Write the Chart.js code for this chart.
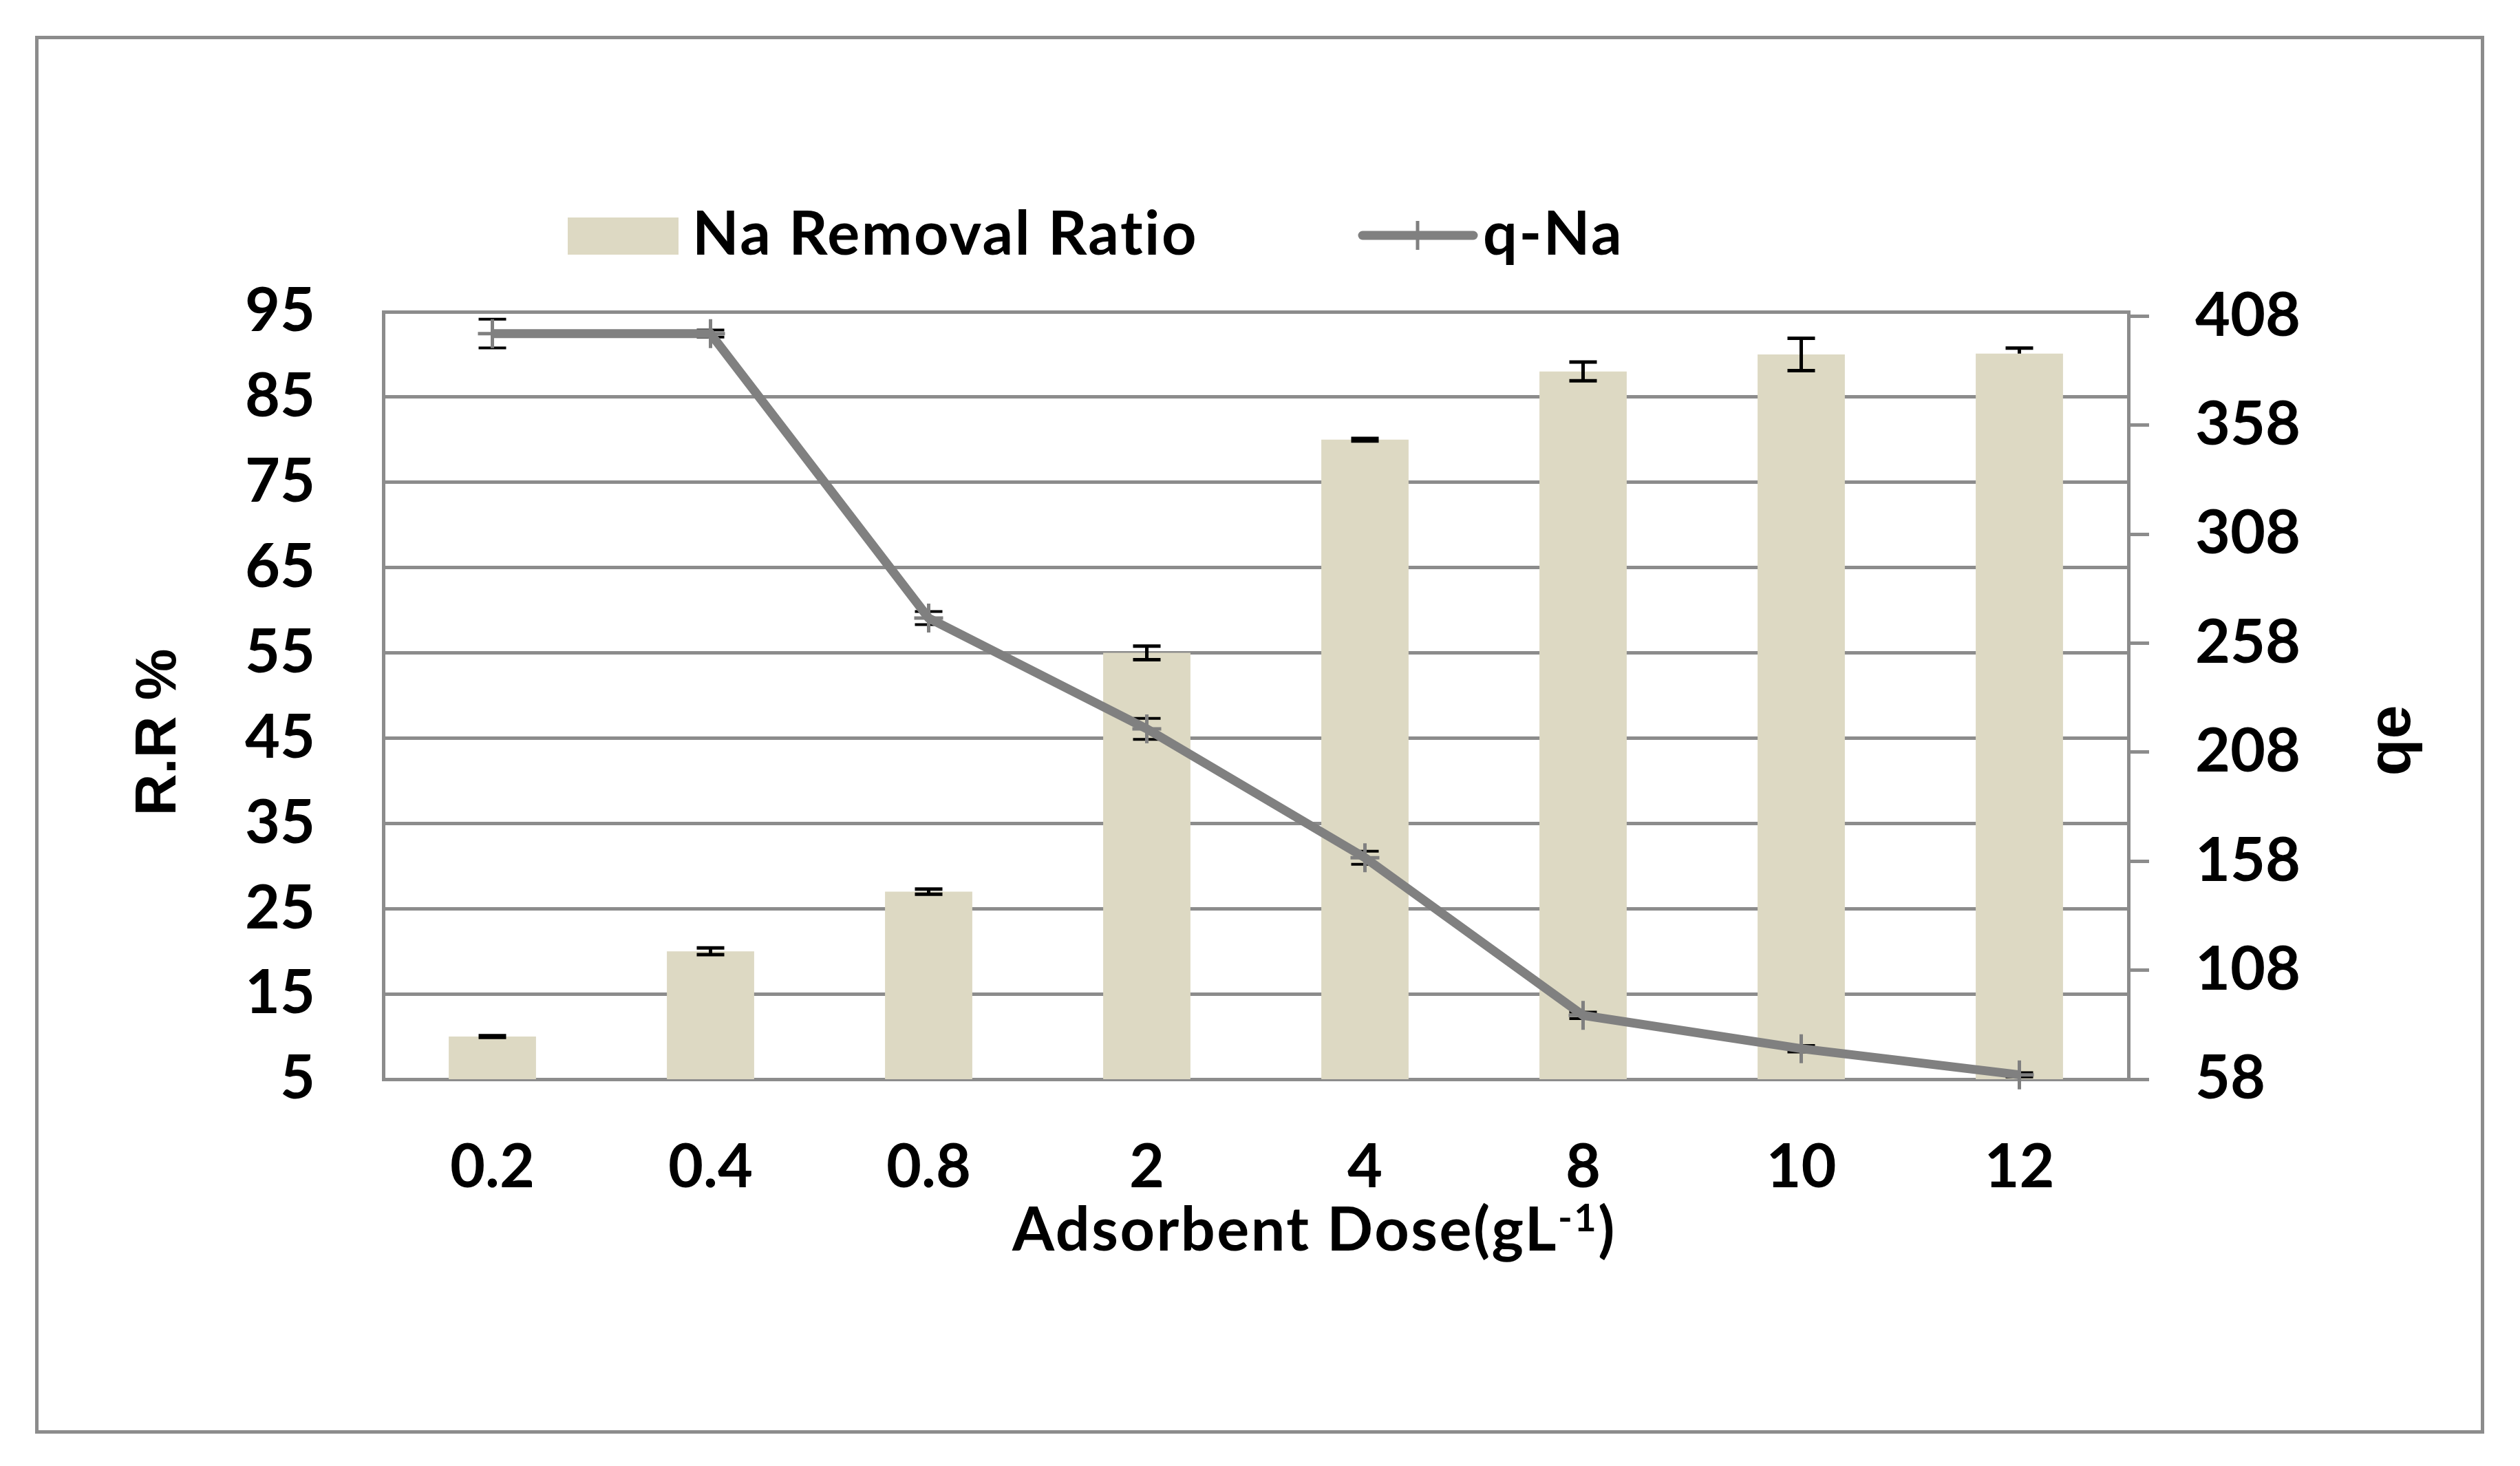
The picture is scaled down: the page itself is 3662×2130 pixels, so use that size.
<!DOCTYPE html>
<html>
<head>
<meta charset="utf-8">
<script src="https://cdn.jsdelivr.net/npm/chart.js@4.4.1/dist/chart.umd.min.js"></script>
<style>
  html, body { margin: 0; padding: 0; background: #ffffff; }
  canvas { display: block; }
</style>
</head>
<body>
<canvas id="c" width="3662" height="2130"></canvas>
<script>
// ---- data ----
const categories = ['0.2', '0.4', '0.8', '2', '4', '8', '10', '12'];
const removalRatio = [10, 20, 27, 55, 80, 88, 90, 90.1];
const removalErrPlus = [0.1, 0.4, 0.3, 0.8, 0.15, 1.1, 1.9, 0.65];
const removalErrMinus = [0.1, 0.4, 0.3, 0.8, 0.15, 1.1, 1.9, 0];
const qNa = [400, 400, 269.5, 218.7, 159.6, 87.3, 72, 60];
const qNaErr = [6.6, 1.6, 3, 4.8, 3, 1.5, 1.5, 1];
const leftTicks = [5, 15, 25, 35, 45, 55, 65, 75, 85, 95];
const rightTicks = [58, 108, 158, 208, 258, 308, 358, 408];

const seriesNames = ['Na Removal Ratio', 'q-Na'];
const xTitleMain = 'Adsorbent Dose(gL';
const xTitleSup = '-1';
const xTitleEnd = ')';
const yTitle = 'R.R %';
const y1Title = 'qe';

// ---- styles ----
const GRAY = '#8c8c8c';
const LINE_GRAY = '#808080';
const BAR_COLOR = '#DDD9C3';
const TICK_FONT = { family: 'Lato', weight: 'bold', size: 88 };

const errorPlugin = {
  id: 'errorBars',
  beforeDraw(chart) {
    const ctx = chart.ctx;
    ctx.save();
    ctx.fillStyle = '#ffffff';
    ctx.fillRect(0, 0, chart.width, chart.height);
    ctx.strokeStyle = GRAY;
    ctx.lineWidth = 5;
    ctx.strokeRect(53.5, 54.5, 3554, 2026);
    ctx.restore();
  },
  afterDatasetDraw(chart, args) {
    if (args.index !== 0) return;
    const ctx = chart.ctx, xs = chart.scales.x, ys = chart.scales.y;
    ctx.save();
    ctx.strokeStyle = '#000000';
    ctx.lineWidth = 5;
    removalRatio.forEach((v, i) => {
      const x = xs.getPixelForValue(i);
      const yt = ys.getPixelForValue(v + removalErrPlus[i]);
      const yb = ys.getPixelForValue(v - removalErrMinus[i]);
      ctx.beginPath();
      ctx.moveTo(x, yt); ctx.lineTo(x, yb);
      ctx.moveTo(x - 20, yt); ctx.lineTo(x + 20, yt);
      if (removalErrMinus[i] > 0) { ctx.moveTo(x - 20, yb); ctx.lineTo(x + 20, yb); }
      ctx.stroke();
    });
    ctx.restore();
  },
  beforeDatasetDraw(chart, args) {
    if (args.index !== 1) return;
    const ctx = chart.ctx, xs = chart.scales.x, ys = chart.scales.y1;
    ctx.save();
    ctx.strokeStyle = '#000000';
    ctx.lineWidth = 4;
    qNa.forEach((v, i) => {
      const x = xs.getPixelForValue(i);
      const yt = ys.getPixelForValue(v + qNaErr[i]);
      const yb = ys.getPixelForValue(v - qNaErr[i]);
      ctx.beginPath();
      ctx.moveTo(x, yt); ctx.lineTo(x, yb);
      ctx.moveTo(x - 20, yt); ctx.lineTo(x + 20, yt);
      ctx.moveTo(x - 20, yb); ctx.lineTo(x + 20, yb);
      ctx.stroke();
    });
    ctx.restore();
  },
  afterDraw(chart) {
    const ctx = chart.ctx;
    const ds = chart.data.datasets;
    ctx.save();
    ctx.fillStyle = '#000000';
    ctx.textBaseline = 'alphabetic';
    try { ctx.letterSpacing = '2.5px'; } catch (e) {}
    // legend
    ctx.fillStyle = ds[0].backgroundColor;
    ctx.fillRect(825, 316, 161, 54);
    ctx.fillStyle = '#000000';
    ctx.font = 'bold 88px Lato';
    ctx.textAlign = 'left';
    ctx.fillText(ds[0].label, 1006, 370);
    ctx.strokeStyle = ds[1].borderColor;
    ctx.lineWidth = 13;
    ctx.lineCap = 'round';
    ctx.beginPath(); ctx.moveTo(1980, 342); ctx.lineTo(2141, 342); ctx.stroke();
    ctx.lineCap = 'butt';
    ctx.lineWidth = 5;
    ctx.beginPath(); ctx.moveTo(2060, 321); ctx.lineTo(2060, 363); ctx.stroke();
    ctx.fillText(ds[1].label, 2155, 370);

    // x title with superscript
    ctx.font = 'bold 88px Lato';
    const w1 = ctx.measureText(xTitleMain).width;
    const w3 = ctx.measureText(xTitleEnd).width;
    ctx.font = 'bold 56px Lato';
    const w2 = ctx.measureText(xTitleSup).width;
    const total = w1 + w2 + w3;
    let sx = 1910 - total / 2;
    ctx.font = 'bold 88px Lato';
    ctx.fillText(xTitleMain, sx, 1817);
    ctx.font = 'bold 56px Lato';
    ctx.fillText(xTitleSup, sx + w1, 1789);
    ctx.font = 'bold 88px Lato';
    ctx.fillText(xTitleEnd, sx + w1 + w2, 1817);

    // y titles (rotated, reading bottom to top)
    try { ctx.letterSpacing = '0px'; } catch (e) {}
    ctx.font = 'bold 84px "Liberation Sans"';
    ctx.textAlign = 'center';
    ctx.save();
    ctx.translate(255, 1064);
    ctx.rotate(-Math.PI / 2);
    ctx.fillText(yTitle, 0, 0);
    ctx.restore();
    ctx.font = 'bold 88px "Liberation Sans"';
    ctx.save();
    ctx.translate(3502, 1076);
    ctx.rotate(-Math.PI / 2);
    ctx.fillText(y1Title, 0, 0);
    ctx.restore();
    ctx.restore();
  }
};

new Chart(document.getElementById('c'), {
  data: {
    labels: categories,
    datasets: [
      {
        type: 'bar',
        label: seriesNames[0],
        data: removalRatio,
        backgroundColor: BAR_COLOR,
        borderWidth: 0,
        barPercentage: 0.4,
        categoryPercentage: 1.0,
        yAxisID: 'y',
        order: 2
      },
      {
        type: 'line',
        label: seriesNames[1],
        data: qNa,
        borderColor: LINE_GRAY,
        backgroundColor: LINE_GRAY,
        borderWidth: 13,
        tension: 0,
        fill: false,
        pointStyle: 'cross',
        pointRadius: 21,
        pointBorderWidth: 5,
        pointBorderColor: LINE_GRAY,
        yAxisID: 'y1',
        clip: false,
        order: 1
      }
    ]
  },
  options: {
    responsive: false,
    devicePixelRatio: 1,
    animation: false,
    layout: { padding: { top: 453, left: 0, right: 0, bottom: 0 } },
    plugins: { legend: { display: false }, title: { display: false }, tooltip: { enabled: false } },
    scales: {
      x: {
        type: 'category',
        offset: true,
        grid: { display: false, drawTicks: false },
        border: { display: true, color: GRAY, width: 5 },
        ticks: { font: TICK_FONT, color: '#000000', padding: 76, maxRotation: 0, autoSkip: false },
        afterFit(s) { s.height = 2130 - 1568; }
      },
      y: {
        type: 'linear',
        position: 'left',
        min: 5,
        max: 95,
        afterBuildTicks(s) { s.ticks = leftTicks.map(v => ({ value: v })); },
        grid: { color: GRAY, lineWidth: 5, drawTicks: false },
        border: { display: true, color: GRAY, width: 5 },
        ticks: { font: TICK_FONT, color: '#000000', padding: 99 },
        afterFit(s) { s.width = 557; }
      },
      y1: {
        type: 'linear',
        position: 'right',
        min: 58,
        max: 410,
        afterBuildTicks(s) { s.ticks = rightTicks.map(v => ({ value: v })); },
        grid: { drawOnChartArea: false, drawTicks: true, tickLength: 30, tickColor: GRAY, tickWidth: 5, color: GRAY, lineWidth: 5 },
        border: { display: true, color: GRAY, width: 5 },
        ticks: { font: TICK_FONT, color: '#000000', padding: 67 },
        afterFit(s) { s.width = 3662 - 3093; }
      }
    }
  },
  plugins: [errorPlugin]
});
</script>
</body>
</html>
